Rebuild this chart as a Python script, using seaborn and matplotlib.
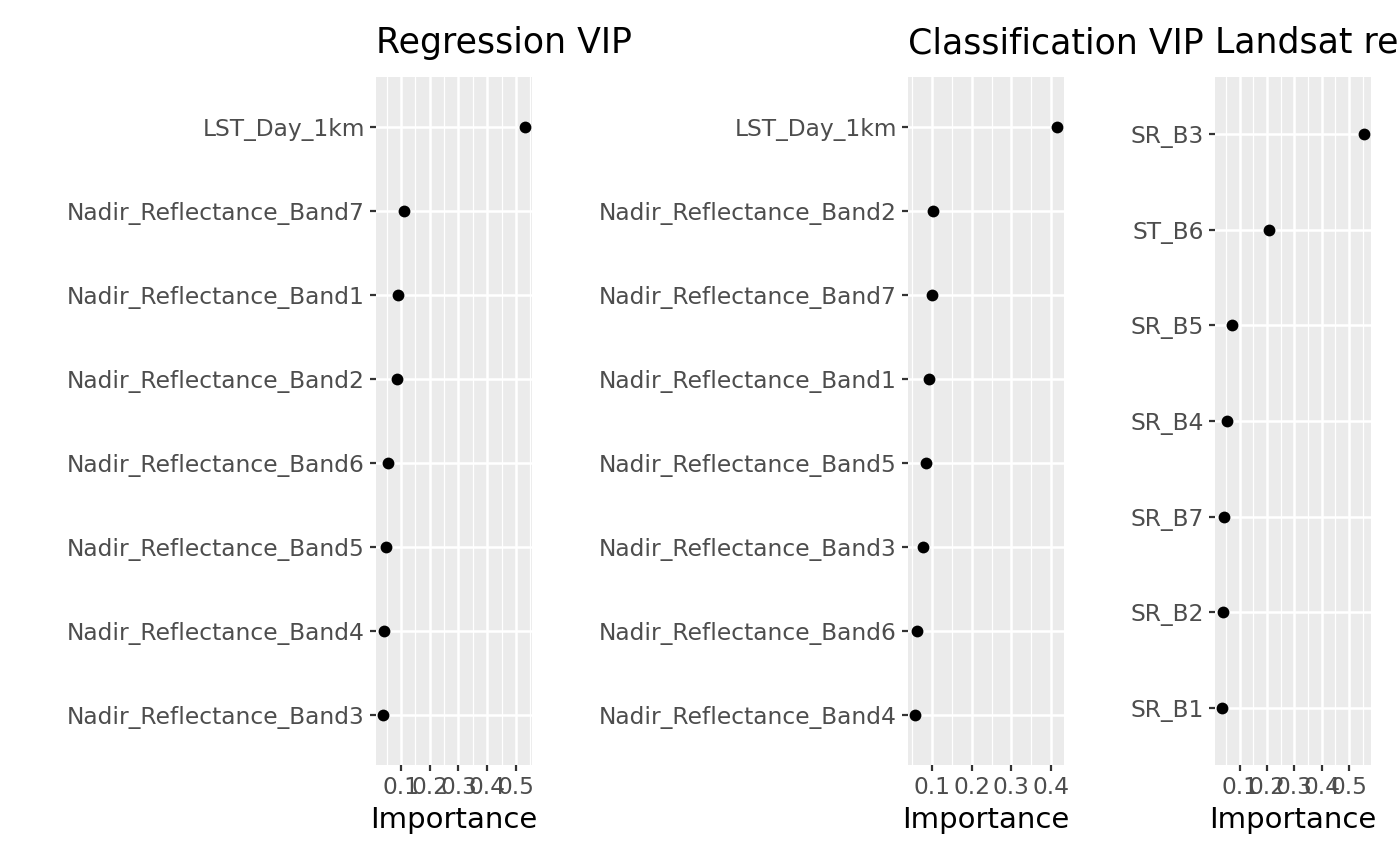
import matplotlib
matplotlib.use("Agg")
import matplotlib.pyplot as plt
import seaborn as sns
import numpy as np
import pandas as pd
from matplotlib.ticker import FixedLocator

# ---- data ----
reg_vars = ["LST_Day_1km", "Nadir_Reflectance_Band7", "Nadir_Reflectance_Band1",
            "Nadir_Reflectance_Band2", "Nadir_Reflectance_Band6", "Nadir_Reflectance_Band5",
            "Nadir_Reflectance_Band4", "Nadir_Reflectance_Band3"]
reg_imp = [0.531, 0.110, 0.090, 0.087, 0.055, 0.048, 0.041, 0.038]

cls_vars = ["LST_Day_1km", "Nadir_Reflectance_Band2", "Nadir_Reflectance_Band7",
            "Nadir_Reflectance_Band1", "Nadir_Reflectance_Band5", "Nadir_Reflectance_Band3",
            "Nadir_Reflectance_Band6", "Nadir_Reflectance_Band4"]
cls_imp = [0.415, 0.1025, 0.100, 0.0925, 0.085, 0.077, 0.0625, 0.057]

lsat_vars = ["SR_B3", "ST_B6", "SR_B5", "SR_B4", "SR_B7", "SR_B2", "SR_B1"]
lsat_imp = [0.555, 0.207, 0.071, 0.053, 0.042, 0.038, 0.035]

reg_ticks = [0.1, 0.2, 0.3, 0.4, 0.5]
cls_ticks = [0.1, 0.2, 0.3, 0.4]
lsat_ticks = [0.1, 0.2, 0.3, 0.4, 0.5]

titles = ["Regression VIP", "Classification VIP", "Landsat regression VIP"]

sns.set_theme(style="darkgrid")
plt.rcParams['font.family'] = ['DejaVu Sans']

W, H = 1400, 865
fig = plt.figure(figsize=(W / 100, H / 100), dpi=100)

panels = [
    (376, 532, reg_vars, reg_imp, reg_ticks, titles[0]),
    (908, 1064, cls_vars, cls_imp, cls_ticks, titles[1]),
    (1215, 1371, lsat_vars, lsat_imp, lsat_ticks, titles[2]),
]
top_px, bot_px = 77, 765

for (x0, x1, cats, vals, ticks, title) in panels:
    ax = fig.add_axes([x0 / W, (H - bot_px) / H, (x1 - x0) / W, (bot_px - top_px) / H])
    df = pd.DataFrame({"Variable": cats, "Importance": vals})
    sns.stripplot(data=df, x="Importance", y="Variable", order=cats, jitter=False,
                  color="black", size=8.5, linewidth=0, ax=ax, zorder=3)
    ax.set_facecolor("#EBEBEB")
    lo, hi = min(vals), max(vals)
    pad = (hi - lo) * 0.05
    ax.set_xlim(lo - pad, hi + pad)
    n = len(cats)
    ax.set_ylim(n - 1 + 0.6, -0.6)
    ax.xaxis.set_major_locator(FixedLocator(ticks))
    ax.set_xticklabels([f"{t:g}" for t in ticks])
    step = ticks[1] - ticks[0]
    minors = [ticks[0] - step / 2] + [t + step / 2 for t in ticks]
    ax.xaxis.set_minor_locator(FixedLocator(minors))
    ax.grid(True, which="major", color="white", linewidth=1.8)
    ax.grid(True, which="minor", axis="x", color="white", linewidth=0.9)
    ax.set_axisbelow(True)
    for s in ax.spines.values():
        s.set_visible(False)
    ax.tick_params(axis="both", which="major", length=4, width=1.6, color="#333333",
                   labelcolor="#4D4D4D", labelsize=16.8, pad=4, bottom=True, left=True)
    ax.tick_params(axis="x", which="minor", length=0)
    ax.set_ylabel("")
    ax.set_xlabel("Importance", fontsize=21, color="black", labelpad=5)
    ax.set_title(title, loc="left", fontsize=25, color="black", pad=17)

fig.savefig("out.png", dpi=100)
